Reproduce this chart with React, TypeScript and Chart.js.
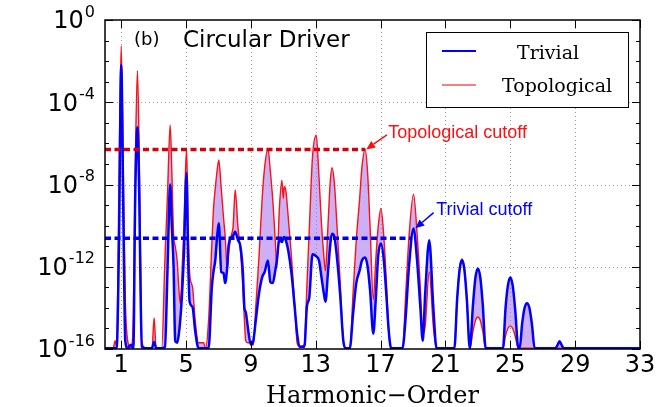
import React, { useEffect, useRef } from "react";
import { Chart, registerables } from "chart.js";

Chart.register(...registerables);

// Harmonic order (x) shared by both spectra
const harmonicOrder = [
  0.0, 0.5, 0.63, 0.72, 0.86, 1.0, 1.14, 1.25, 1.4, 1.6, 1.75, 1.86, 2.0, 2.11, 2.19, 2.27,
  2.5, 2.9, 3.03, 3.15, 3.5, 3.7, 3.85, 4.02, 4.12, 4.23, 4.33, 4.45, 4.55, 4.64, 4.74, 4.87,
  5.03, 5.12, 5.22, 5.4, 5.56, 5.77, 6.08, 6.2, 6.39, 6.59, 6.7, 6.8, 6.92, 7.02, 7.17, 7.31,
  7.41, 7.54, 7.62, 7.78, 7.9, 8.03, 8.2, 8.35, 8.5, 8.6, 8.68, 8.8, 9.0, 9.15, 9.3, 9.5,
  9.7, 9.85, 10.05, 10.2, 10.35, 10.5, 10.6, 10.75, 10.91, 11.0, 11.05, 11.15, 11.3, 11.5, 11.7, 11.85,
  12.0, 12.3, 12.45, 12.6, 12.8, 13.03, 13.2, 13.35, 13.5, 13.6, 13.75, 13.9, 14.0, 14.15, 14.3, 14.5,
  14.7, 14.85, 15.1, 15.3, 15.5, 15.7, 15.85, 16.05, 16.2, 16.35, 16.55, 16.7, 16.85, 17.02, 17.2, 17.35,
  17.5, 17.65, 18.35, 18.55, 18.75, 19.03, 19.25, 19.45, 19.6, 19.75, 20.0, 20.25, 20.45, 21.55, 21.72, 21.87,
  22.02, 22.17, 22.32, 22.5, 22.7, 22.85, 23.0, 23.15, 23.3, 23.48, 24.55, 24.7, 24.85, 25.0, 25.15, 25.3,
  25.5, 25.58, 25.73, 25.88, 26.03, 26.18, 26.33, 26.5, 27.78, 27.92, 28.04, 28.16, 28.3, 33.0,
];

const trivialYield = [
  1.1e-16, 1.1e-16, 1.1e-16, 1.1e-16, 1e-11, 6.5e-3, 1e-10, 2.5e-16, 1.1e-16, 1.6e-16, 1.1e-16, 1.6e-9, 6e-6, 4e-9, 1e-13, 1.3e-16,
  1.1e-16, 1.1e-16, 2.2e-16, 1.1e-16, 1.1e-16, 1.3e-16, 5e-13, 1e-8, 1e-10, 1e-12, 2.5e-16, 2e-16, 5e-16, 2.5e-15, 3.2e-14, 4.5e-12,
  3.7e-8, 4.5e-12, 2e-14, 1.1e-14, 7.9e-16, 1.1e-16, 1.1e-16, 1.1e-16, 1.1e-16, 1e-13, 6.3e-13, 2e-12, 3.2e-11, 1.3e-10, 5.6e-13, 5e-13,
  1.6e-13, 1e-12, 1e-11, 2.5e-11, 3.2e-11, 5e-11, 2e-11, 1e-11, 6.3e-13, 1e-14, 6.3e-15, 1.3e-15, 1.6e-16, 2.5e-16, 2.5e-15, 5e-14,
  3.2e-13, 5.6e-13, 2e-12, 1.8e-13, 1.6e-13, 6.3e-13, 2e-12, 2e-11, 1.6e-11, 2.5e-11, 2.8e-11, 2e-11, 6.3e-12, 5e-13, 1.1e-14, 5.6e-16,
  1.3e-16, 1.3e-16, 1.1e-14, 3.2e-14, 4e-12, 3.2e-12, 2e-12, 3.2e-13, 5e-14, 2e-14, 5e-13, 1.3e-11, 4e-11, 2.8e-11, 3.2e-12, 5e-14,
  2.5e-16, 1.1e-16, 1.1e-16, 5e-15, 1.6e-13, 6.3e-13, 2e-12, 2.8e-12, 1e-12, 7.2e-14, 5.6e-16, 2.5e-14, 3.2e-12, 1.35e-11, 2e-12, 5e-14,
  7.9e-16, 1.1e-16, 1.1e-16, 4e-15, 1e-12, 7.2e-11, 2e-12, 1.1e-14, 2.5e-16, 5e-14, 1.95e-11, 1.1e-14, 1.1e-16, 1.1e-16, 2.5e-14, 6.9e-13,
  2.1e-12, 6.9e-13, 2.5e-14, 1.1e-16, 1.5e-14, 3e-13, 8.3e-13, 3e-13, 1.5e-14, 1.1e-16, 1.1e-16, 8.5e-15, 1.2e-13, 3e-13, 1.2e-13, 8.5e-15,
  1.1e-16, 1.1e-16, 1.7e-15, 9.8e-15, 1.7e-14, 9.8e-15, 1.7e-15, 1.1e-16, 1.1e-16, 1.6e-16, 2.4e-16, 1.6e-16, 1.1e-16, 1.1e-16,
];

const topologicalYield = [
  1.1e-16, 1.1e-16, 2.5e-16, 1.3e-16, 1e-8, 5.4e-2, 1e-8, 3.2e-14, 2.5e-16, 1.1e-16, 5e-15, 3.2e-8, 3.4e-3, 3.2e-7, 4e-12, 2.5e-16,
  1.1e-16, 1.1e-16, 3.2e-15, 1.1e-16, 1.1e-16, 2.8e-12, 2.5e-9, 7.8e-6, 5e-8, 4e-11, 1e-11, 2e-12, 1e-13, 1.6e-14, 3.2e-13, 1e-10,
  5.6e-7, 2e-10, 5e-13, 1e-13, 2.5e-15, 2e-16, 2e-16, 1.1e-16, 2.5e-15, 1.3e-11, 7.9e-10, 6.3e-9, 5e-8, 1.55e-7, 6.3e-9, 2.5e-10,
  3.2e-11, 7.9e-13, 4.5e-12, 3.2e-11, 8.7e-11, 5.4e-9, 8.7e-11, 6.3e-12, 1e-13, 2.5e-15, 2.5e-16, 2e-16, 2e-16, 1.6e-16, 1.1e-14, 3.2e-12,
  2.5e-9, 7.2e-8, 5.6e-7, 4.2e-8, 1.7e-9, 2e-11, 1e-12, 5.6e-10, 1.6e-8, 2.1e-9, 7.9e-9, 5.4e-9, 2.7e-10, 3.2e-12, 1.6e-14, 2e-16,
  1.3e-16, 1.6e-16, 1e-13, 6.3e-11, 2.2e-7, 2.5e-6, 2.3e-8, 1.3e-10, 3.2e-12, 6.3e-13, 8.7e-11, 1.6e-8, 6.5e-8, 1.1e-8, 1.3e-10, 2.2e-13,
  2.5e-16, 1.1e-16, 1.1e-16, 5e-14, 2e-11, 1.7e-9, 7.2e-8, 5.1e-7, 3.5e-8, 8.7e-11, 2.5e-14, 2e-12, 8.7e-11, 6.8e-10, 2.8e-11, 2.2e-13,
  7.9e-16, 1.1e-16, 1.1e-16, 5e-14, 2.8e-11, 3.4e-9, 4e-11, 1e-13, 5.6e-16, 1.3e-15, 5.6e-13, 1.3e-15, 1.1e-16, 1.1e-16, 2.8e-14, 7.9e-13,
  2.4e-12, 7.9e-13, 2.8e-14, 1.1e-16, 7.4e-16, 2.45e-15, 3.6e-15, 2.45e-15, 7.4e-16, 1.1e-16, 1.1e-16, 4.2e-16, 1e-15, 1.3e-15, 1e-15, 4.2e-16,
  1.1e-16, 1.1e-16, 1.1e-16, 1.1e-16, 1.1e-16, 1.1e-16, 1.1e-16, 1.1e-16, 1.1e-16, 1.1e-16, 1.1e-16, 1.1e-16, 1.1e-16, 1.1e-16,
];

// Cutoff levels (horizontal dashed lines)
const topologicalCutoffX = [0, 16.05];
const topologicalCutoffLevel = 5.1e-7;
const trivialCutoffX = [0, 18.95];
const trivialCutoffLevel = 2.4e-11;

// Axes
const xTickValues = [1, 5, 9, 13, 17, 21, 25, 29, 33];
const yTickExponents = [0, -4, -8, -12, -16];
const xAxisTitle = "Harmonic\u2212Order";

// Annotations (data coordinates)
const topologicalNote = { text: "Topological cutoff", x: 17.47, y: 1.93e-6, tailX: 17.39, tailY: 2.6e-6, headX: 16.11, headY: 5.1e-7 };
const trivialNote = { text: "Trivial cutoff", x: 20.43, y: 3.3e-10, tailX: 20.27, tailY: 4.3e-10, headX: 19.14, headY: 7.4e-11 };

const BLUE = "#0000ff";
const RED = "#ff1010";

function drawArrow(ctx: CanvasRenderingContext2D, x0: number, y0: number, x1: number, y1: number, color: string) {
  const ang = Math.atan2(y1 - y0, x1 - x0);
  const hl = 9;
  const hw = 4;
  const bx = x1 - hl * Math.cos(ang);
  const by = y1 - hl * Math.sin(ang);
  ctx.strokeStyle = color;
  ctx.fillStyle = color;
  ctx.lineWidth = 1.5;
  ctx.setLineDash([]);
  ctx.beginPath();
  ctx.moveTo(x0, y0);
  ctx.lineTo(bx, by);
  ctx.stroke();
  ctx.beginPath();
  ctx.moveTo(x1, y1);
  ctx.lineTo(bx + hw * Math.sin(ang), by - hw * Math.cos(ang));
  ctx.lineTo(bx - hw * Math.sin(ang), by + hw * Math.cos(ang));
  ctx.closePath();
  ctx.fill();
}

const decorPlugin = {
  id: "decor",
  beforeDatasetsDraw(chart: any) {
    const { ctx, chartArea: a, scales } = chart;
    const x = scales.x;
    const y = scales.y;
    ctx.save();
    ctx.strokeStyle = "#a0a0a0";
    ctx.lineWidth = 1;
    ctx.setLineDash([1, 3]);
    for (const t of xTickValues) {
      const px = Math.round(x.getPixelForValue(t)) + 0.5;
      if (px >= a.right - 1) continue;
      ctx.beginPath();
      ctx.moveTo(px, a.top);
      ctx.lineTo(px, a.bottom);
      ctx.stroke();
    }
    for (const e of yTickExponents) {
      const py = Math.round(y.getPixelForValue(Math.pow(10, e))) + 0.5;
      if (py <= a.top + 1 || py >= a.bottom - 1) continue;
      ctx.beginPath();
      ctx.moveTo(a.left, py);
      ctx.lineTo(a.right, py);
      ctx.stroke();
    }
    ctx.restore();
  },
  afterDraw(chart: any) {
    const { ctx, chartArea: a, scales } = chart;
    const x = scales.x;
    const y = scales.y;
    ctx.save();
    ctx.setLineDash([]);
    ctx.strokeStyle = "#000";
    ctx.lineWidth = 1;
    // y ticks (major every 4 decades, minor every decade), both sides
    for (let e = 0; e >= -16; e--) {
      const py = Math.round(y.getPixelForValue(Math.pow(10, e))) + 0.5;
      const len = e % 4 === 0 ? 8 : 4;
      ctx.beginPath();
      ctx.moveTo(a.left, py);
      ctx.lineTo(a.left + len, py);
      ctx.moveTo(a.right, py);
      ctx.lineTo(a.right - len, py);
      ctx.stroke();
    }
    // x ticks, top and bottom
    for (const t of xTickValues) {
      const px = Math.round(x.getPixelForValue(t)) + 0.5;
      ctx.beginPath();
      ctx.moveTo(px, a.bottom);
      ctx.lineTo(px, a.bottom - 8);
      ctx.moveTo(px, a.top);
      ctx.lineTo(px, a.top + 8);
      ctx.stroke();
    }
    // frame
    ctx.lineWidth = 1.5;
    ctx.strokeRect(a.left, a.top, a.right - a.left, a.bottom - a.top);

    // x tick labels
    ctx.fillStyle = "#000";
    ctx.font = '24px "DejaVu Sans"';
    ctx.textAlign = "center";
    ctx.textBaseline = "alphabetic";
    for (const t of xTickValues) {
      ctx.fillText(String(t), x.getPixelForValue(t), a.bottom + 23);
    }
    // y tick labels 10^e
    for (const e of yTickExponents) {
      const py = y.getPixelForValue(Math.pow(10, e));
      const exp = String(e);
      ctx.font = '16px "DejaVu Sans"';
      ctx.textAlign = "right";
      const rightEdge = a.left - 10;
      ctx.fillText(exp, rightEdge, py - 3.3);
      const w = ctx.measureText(exp).width;
      ctx.font = '24px "DejaVu Sans"';
      ctx.fillText("10", rightEdge - w - 1, py + 8.4);
    }
    // x axis title
    ctx.textAlign = "center";
    ctx.font = '24px "DejaVu Serif"';
    ctx.fillText(xAxisTitle, (a.left + a.right) / 2, a.bottom + 54);

    // panel label
    ctx.textAlign = "left";
    ctx.font = '18px "DejaVu Sans"';
    ctx.fillText("(b)", a.left + 29, a.top + 25);
    ctx.font = '23px "DejaVu Sans"';
    ctx.fillText("Circular Driver", a.left + 78, a.top + 26.7);

    // annotations
    const notes = [
      { n: topologicalNote, c: RED },
      { n: trivialNote, c: BLUE },
    ];
    for (const { n, c } of notes) {
      drawArrow(
        ctx,
        x.getPixelForValue(n.tailX),
        y.getPixelForValue(n.tailY),
        x.getPixelForValue(n.headX),
        y.getPixelForValue(n.headY),
        c
      );
      ctx.fillStyle = c;
      ctx.font = '18px "Liberation Sans"';
      ctx.textAlign = "left";
      ctx.fillText(n.text, x.getPixelForValue(n.x), y.getPixelForValue(n.y));
    }

    // legend
    const lx = a.right - 214;
    const ly = a.top + 12;
    const lw = 202;
    const lh = 75;
    ctx.fillStyle = "#fff";
    ctx.fillRect(lx, ly, lw, lh);
    ctx.strokeStyle = "#000";
    ctx.lineWidth = 1;
    ctx.strokeRect(lx + 0.5, ly + 0.5, lw, lh);
    ctx.lineWidth = 2;
    ctx.strokeStyle = BLUE;
    ctx.beginPath();
    ctx.moveTo(lx + 16, ly + 19);
    ctx.lineTo(lx + 50, ly + 19);
    ctx.stroke();
    ctx.strokeStyle = "#f58088";
    ctx.beginPath();
    ctx.moveTo(lx + 16, ly + 53);
    ctx.lineTo(lx + 50, ly + 53);
    ctx.stroke();
    ctx.fillStyle = "#000";
    ctx.font = '19px "DejaVu Serif"';
    ctx.textAlign = "left";
    ctx.fillText("Trivial", lx + 91, ly + 26.5);
    ctx.fillText("Topological", lx + 76, ly + 59.5);
    ctx.restore();
  },
};

export default function App() {
  const canvasRef = useRef<HTMLCanvasElement | null>(null);

  useEffect(() => {
    document.body.style.margin = "0";
    const canvas = canvasRef.current;
    if (!canvas) return;
    const chart = new Chart(canvas, {
      type: "line",
      data: {
        datasets: [
          {
            label: "Trivial",
            data: harmonicOrder.map((h, i) => ({ x: h, y: trivialYield[i] })),
            borderColor: BLUE,
            borderWidth: 2.5,
            pointRadius: 0,
            fill: false,
            cubicInterpolationMode: "monotone",
            order: 0,
          },
          {
            label: "Topological",
            data: harmonicOrder.map((h, i) => ({ x: h, y: topologicalYield[i] })),
            borderColor: RED,
            borderWidth: 1.4,
            backgroundColor: "rgba(155, 95, 238, 0.5)",
            pointRadius: 0,
            fill: 0,
            cubicInterpolationMode: "monotone",
            order: 0,
          },
          {
            label: "Topological cutoff",
            data: topologicalCutoffX.map((h) => ({ x: h, y: topologicalCutoffLevel })),
            borderColor: "#d4000c",
            borderWidth: 3.5,
            borderDash: [6, 3.5],
            pointRadius: 0,
            fill: false,
            order: -1,
          },
          {
            label: "Trivial cutoff",
            data: trivialCutoffX.map((h) => ({ x: h, y: trivialCutoffLevel })),
            borderColor: "#0000e6",
            borderWidth: 3.5,
            borderDash: [6, 3.5],
            pointRadius: 0,
            fill: false,
            order: -1,
          },
        ],
      },
      options: {
        animation: false,
        responsive: false,
        events: [],
        layout: { padding: { left: 105, right: 20, top: 20, bottom: 58 } },
        scales: {
          x: { type: "linear", min: 0, max: 33, display: false },
          y: { type: "logarithmic", min: 1e-16, max: 1, display: false },
        },
        plugins: {
          legend: { display: false },
          tooltip: { enabled: false },
        },
      },
      plugins: [decorPlugin],
    } as any);
    return () => chart.destroy();
  }, []);

  return (
    <div style={{ width: 660, height: 407 }}>
      <canvas ref={canvasRef} width={660} height={407} style={{ display: "block", width: 660, height: 407 }} />
    </div>
  );
}
